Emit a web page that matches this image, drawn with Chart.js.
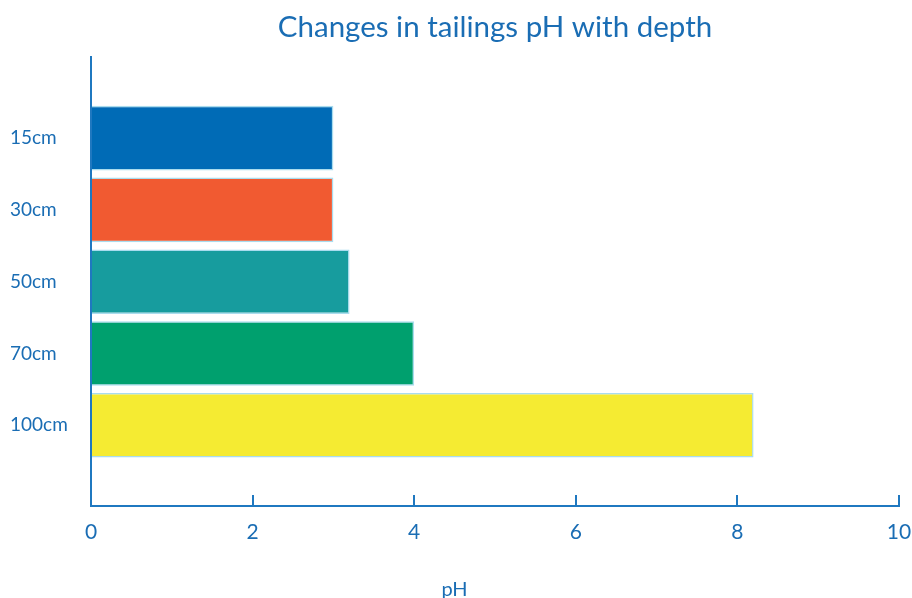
<!DOCTYPE html>
<html>
<head>
<meta charset="utf-8">
<script src="https://cdn.jsdelivr.net/npm/chart.js@4/dist/chart.umd.min.js"></script>
<style>
  html, body { margin: 0; padding: 0; background: #ffffff; }
  #wrap { width: 912px; height: 598px; }
</style>
</head>
<body>
<div id="wrap"><canvas id="c" width="912" height="598"></canvas></div>
<script>
const categories = ['15cm', '30cm', '50cm', '70cm', '100cm'];
const phValues = [3.0, 3.0, 3.2, 4.0, 8.2];
const barColors = ['#006bb6', '#f15a31', '#179c9e', '#00a06e', '#f5eb32'];
const xTicks = [0, 2, 4, 6, 8, 10];
const chartTitle = 'Changes in tailings pH with depth';
const xTitle = 'pH';

const textColor = '#1a6db4';
const axisColor = '#1f78c0';
const fontFamily = 'Lato, "Open Sans", sans-serif';

const points = categories.map((c, i) => ({ x: phValues[i], y: i }));

new Chart(document.getElementById('c'), {
  type: 'bar',
  data: {
    datasets: [{
      data: points,
      backgroundColor: barColors,
      borderColor: '#a9dcee',
      borderWidth: 1.5,
      categoryPercentage: 1.0,
      barPercentage: 0.9
    }]
  },
  options: {
    indexAxis: 'y',
    responsive: false,
    animation: false,
    layout: { padding: { left: 10, right: 13, top: 0, bottom: -4 } },
    plugins: {
      legend: { display: false },
      tooltip: { enabled: false },
      title: {
        display: true,
        text: chartTitle,
        fullSize: false,
        color: textColor,
        font: { family: fontFamily, size: 29.5, weight: 'normal' },
        padding: { top: 10, bottom: 12 }
      },
      subtitle: {
        display: true,
        position: 'bottom',
        text: xTitle,
        color: textColor,
        font: { family: fontFamily, size: 20, weight: 'normal' },
        padding: { top: 30, bottom: 0 }
      }
    },
    scales: {
      x: {
        type: 'linear',
        position: 'bottom',
        min: 0,
        max: 10,
        offset: false,
        afterBuildTicks: (s) => { s.ticks = xTicks.map(v => ({ value: v })); },
        afterFit: (s) => { s.height = 42; s.paddingRight = 0; s.paddingLeft = 0; },
        ticks: {
          color: textColor,
          font: { family: fontFamily, size: 21 },
          padding: 25,
          maxRotation: 0
        },
        grid: {
          drawOnChartArea: false,
          drawTicks: true,
          tickLength: -11,
          color: axisColor,
          lineWidth: 2
        },
        border: { display: true, color: axisColor, width: 2 }
      },
      y: {
        type: 'linear',
        position: 'left',
        reverse: true,
        offset: false,
        min: -1.125,
        max: 5.125,
        afterBuildTicks: (s) => { s.ticks = categories.map((c, i) => ({ value: i })); },
        afterFit: (s) => { s.width = 81; s.paddingTop = 0; s.paddingBottom = 0; },
        ticks: {
          color: textColor,
          font: { family: fontFamily, size: 19 },
          crossAlign: 'far',
          padding: 8,
          callback: (v) => categories[v]
        },
        grid: { display: false, drawTicks: false, offset: false },
        border: { display: true, color: axisColor, width: 2 }
      }
    }
  }
});
</script>
</body>
</html>
